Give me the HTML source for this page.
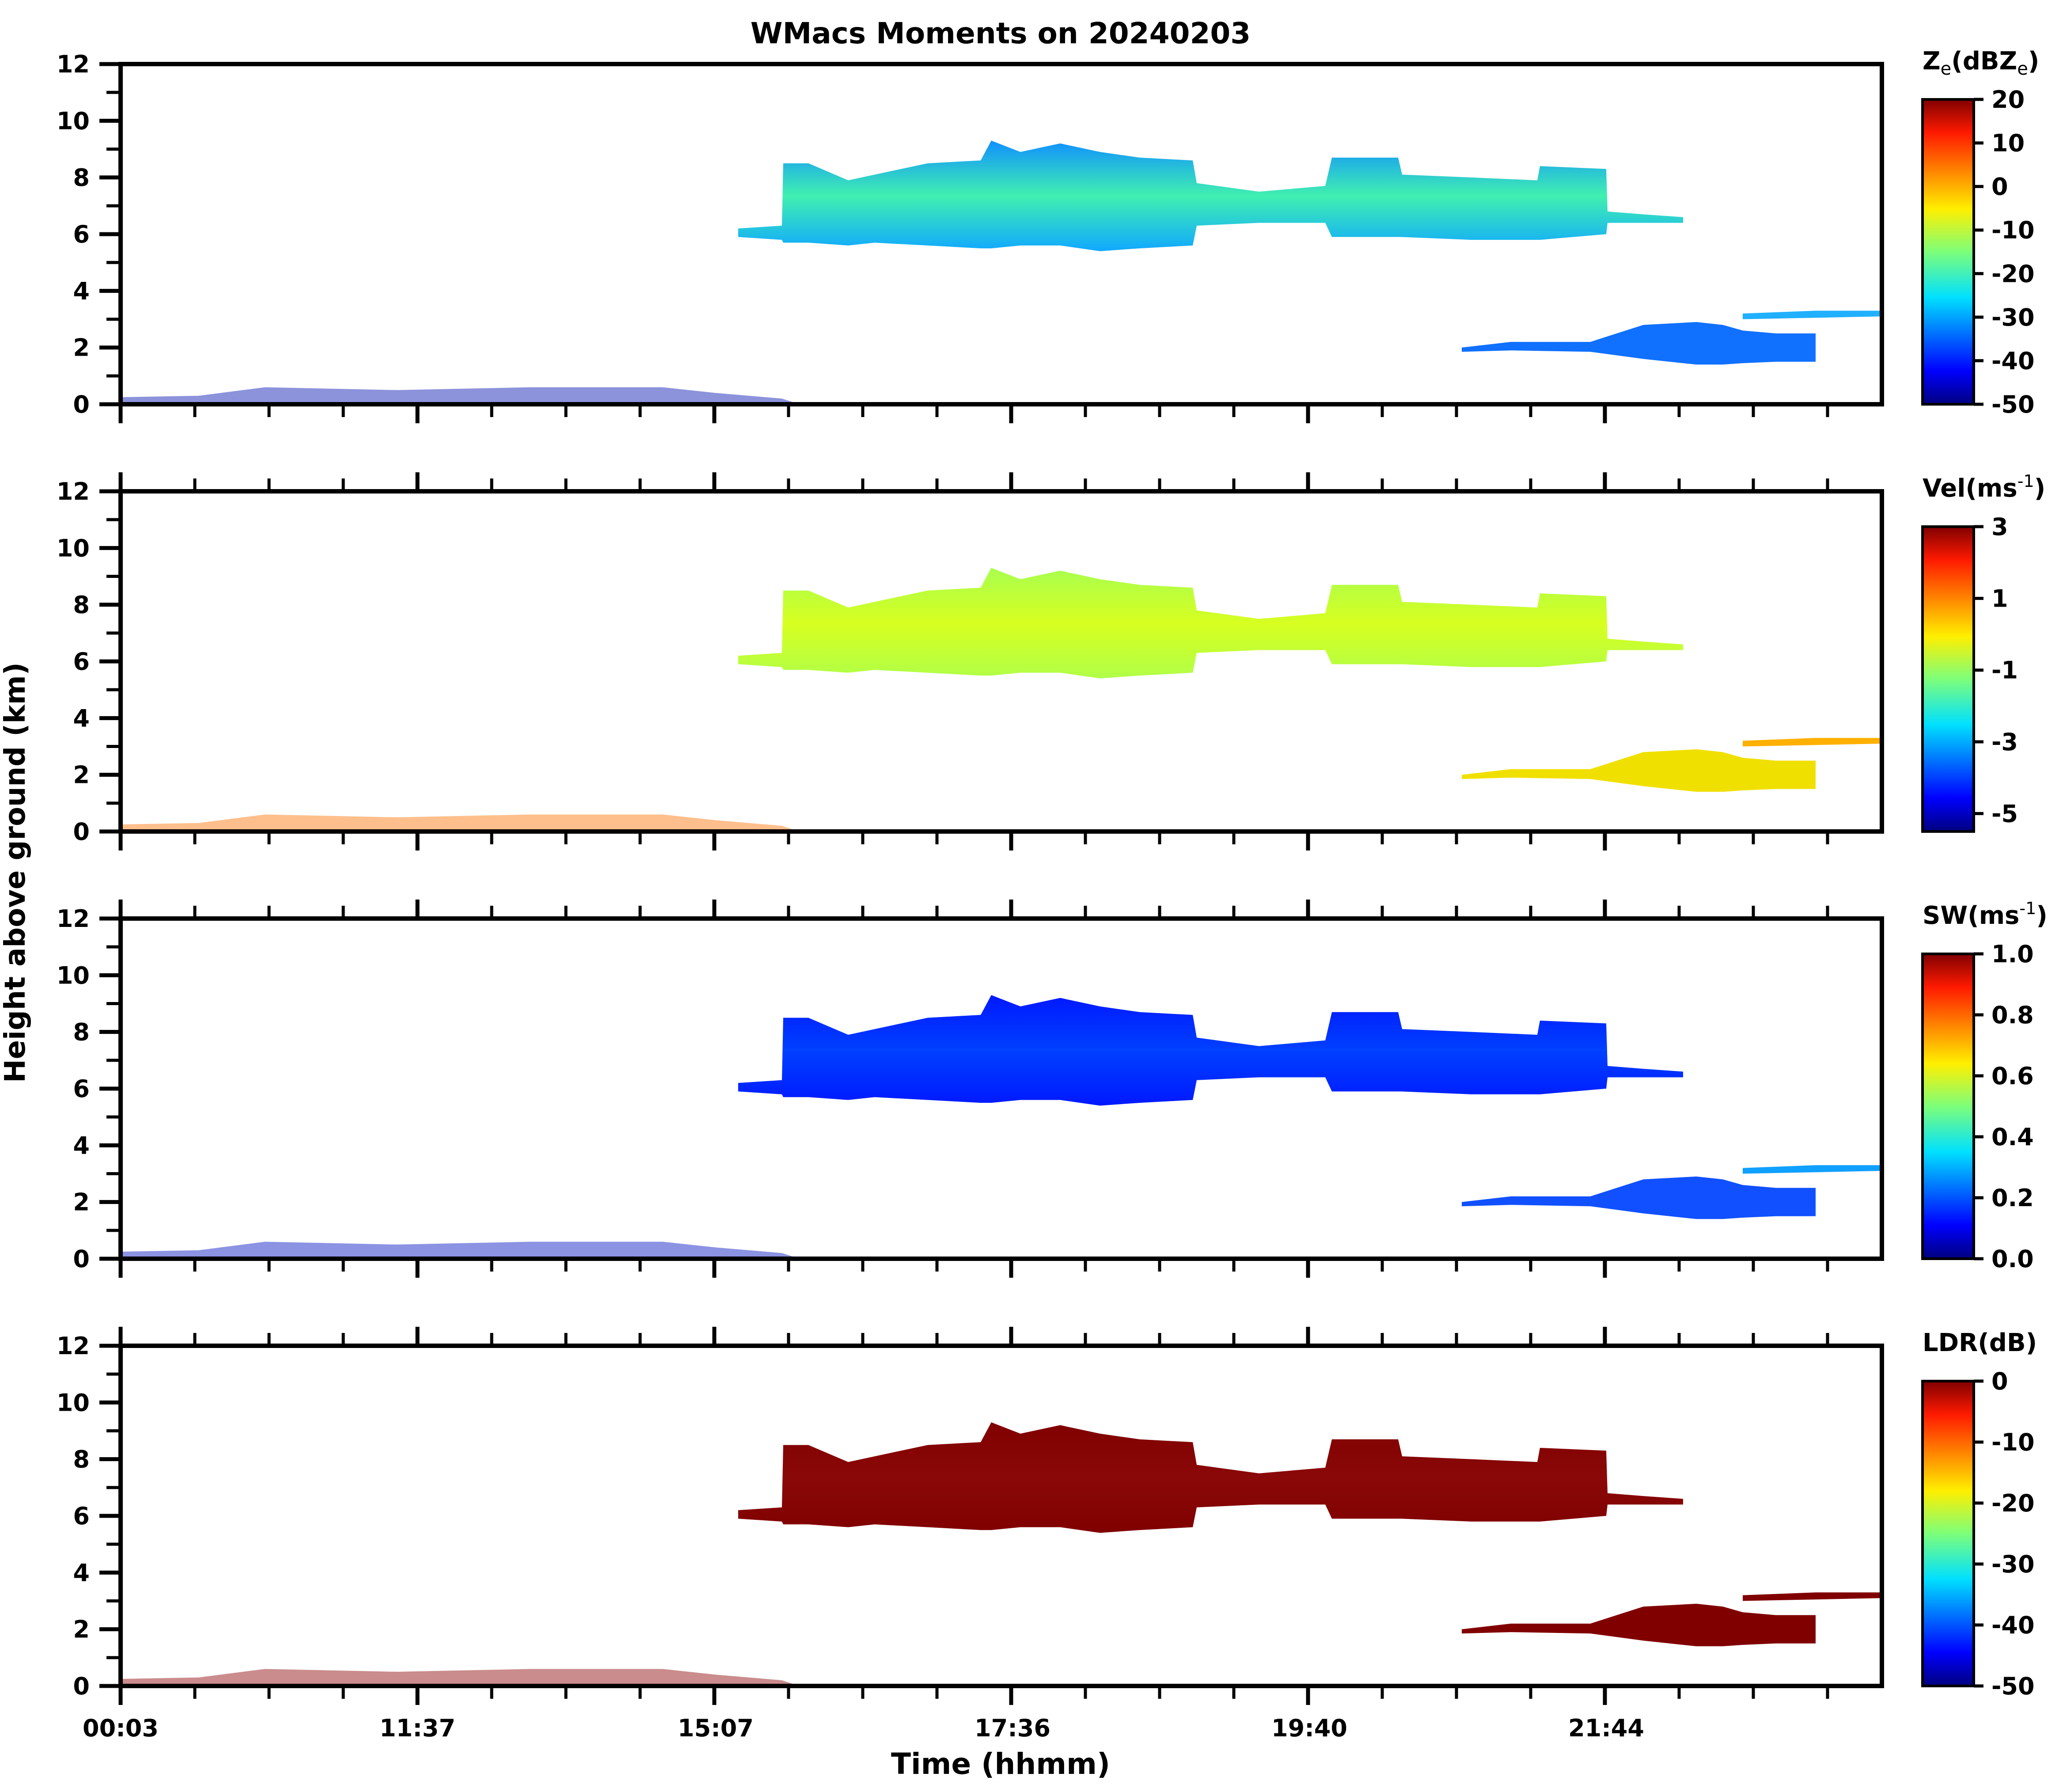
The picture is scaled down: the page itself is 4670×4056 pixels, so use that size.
<!DOCTYPE html>
<html><head><meta charset="utf-8">
<style>
html,body{margin:0;padding:0;background:#fff;}
svg{display:block;}
text{font-family:"DejaVu Sans","Liberation Sans",sans-serif;font-weight:bold;fill:#000;}
</style></head>
<body>
<svg id="fig" xmlns="http://www.w3.org/2000/svg" width="4670" height="4056" viewBox="0 0 4670 4056">
<text x="2265" y="98" font-size="66" text-anchor="middle">WMacs Moments on 20240203</text>
<text x="2265" y="4015" font-size="66" text-anchor="middle">Time (hhmm)</text>
<text x="0" y="0" font-size="64" text-anchor="middle" transform="translate(56,1975) rotate(-90)">Height above ground (km)</text>
</svg>
<script>
// ---- data (time index, heights in km) ----
const upperTime = [557,590,591,610,640,660,700,740,748,770,800,830,860,900,903,950,1000,1005,1055,1058,1110,1160,1162,1212,1213,1240,1270];
const upperTop  = [6.2,6.3,8.5,8.5,7.9,8.1,8.5,8.6,9.3,8.9,9.2,8.9,8.7,8.6,7.8,7.5,7.7,8.7,8.7,8.1,8.0,7.9,8.4,8.3,6.8,6.7,6.6];
const upperBase = [5.9,5.8,5.7,5.7,5.6,5.7,5.6,5.5,5.5,5.6,5.6,5.4,5.5,5.6,6.3,6.4,6.4,5.9,5.9,5.9,5.8,5.8,5.8,6.0,6.4,6.4,6.4];
const lowerTime = [1103,1140,1200,1240,1280,1300,1315,1340,1370];
const lowerTop  = [2.0,2.2,2.2,2.8,2.9,2.8,2.6,2.5,2.5];
const lowerBase = [1.85,1.9,1.85,1.6,1.4,1.4,1.45,1.5,1.5];
const bandTime = [1315,1370,1420];
const bandTop  = [3.2,3.3,3.3];
const bandBase = [3.0,3.05,3.1];
const clutterTime = [91,150,200,300,400,450,500,540,590,600];
const clutterTop  = [0.25,0.3,0.6,0.5,0.6,0.6,0.6,0.4,0.2,0.05];
const xTickIdx = [91,315,540,764,988,1212];
const xTickLabels = ["00:03","11:37","15:07","17:36","19:40","21:44"];
const yTicks = [0,2,4,6,8,10,12];
const cbTicksZe = [20,10,0,-10,-20,-30,-40,-50];
const cbTicksVel = [3,1,-1,-3,-5];
const cbTicksSW = [1.0,0.8,0.6,0.4,0.2,0.0];
const cbTicksLDR = [0,-10,-20,-30,-40,-50];

const NS="http://www.w3.org/2000/svg";
const svg=document.getElementById('fig');
const X0=273,X1=4260,D0=91,D1=1420,H=770,TOPS=[145,1112,2079,3046];
function xs(t){return X0+(t-D0)*(X1-X0)/(D1-D0);}
function mk(tag,attrs,parent){const e=document.createElementNS(NS,tag);for(const k in attrs)e.setAttribute(k,attrs[k]);(parent||svg).appendChild(e);return e;}

const defs=mk('defs',{});
const jet=[[0,'#00007f'],[0.11,'#0000ff'],[0.35,'#00e0ff'],[0.5,'#7dff7a'],[0.64,'#ffef00'],[0.89,'#ff1a00'],[1,'#800000']];
const lg=mk('linearGradient',{id:'jet',x1:0,y1:1,x2:0,y2:0},defs);
jet.forEach(s=>mk('stop',{offset:s[0],'stop-color':s[1]},lg));

const panels=[
 {name:'ze',title:['Z','e','(dBZ','e',')'],vmax:20,vmin:-50,ticks:cbTicksZe,fmt:v=>String(v),
  upper:['#1090ff','#40f0b0','#10a8ff'],lower:'#1070ff',band:'#20b0ff',clutter:'#0010b0'},
 {name:'vel',title:['Vel(ms','-1',')'],vmax:3,vmin:-5.5,ticks:cbTicksVel,fmt:v=>String(v),
  upper:['#a8ff50','#d8ff20','#b0ff48'],lower:'#f0e000',band:'#ffb000',clutter:'#ff7000'},
 {name:'sw',title:['SW(ms','-1',')'],vmax:1,vmin:0,ticks:cbTicksSW,fmt:v=>v.toFixed(1),
  upper:['#0018ff','#0040ff','#0018ff'],lower:'#1050ff',band:'#10a0ff',clutter:'#0010c0'},
 {name:'ldr',title:['LDR(dB)'],vmax:0,vmin:-50,ticks:cbTicksLDR,fmt:v=>String(v),
  upper:['#800000','#8a0808','#800000'],lower:'#800000',band:'#800000',clutter:'#8a0000'}
];

panels.forEach((p,i)=>{
  const top=TOPS[i];
  const ys=h=>top+H*(1-h/12);
  const g=mk('g',{});
  
  
  const ug=mk('linearGradient',{id:'ug'+i,x1:0,y1:0,x2:0,y2:1},defs);
  mk('stop',{offset:0,'stop-color':p.upper[0]},ug);
  mk('stop',{offset:0.5,'stop-color':p.upper[1]},ug);
  mk('stop',{offset:1,'stop-color':p.upper[2]},ug);
  function shape(T,Tp,B,fill,nm,op){
    const pts=[];
    T.forEach((t,k)=>pts.push(xs(t)+','+ys(Tp[k])));
    for(let k=T.length-1;k>=0;k--)pts.push(xs(T[k])+','+ys(B[k]));
    const e=mk('polygon',{points:pts.join(' '),fill:fill,'fill-opacity':op||1},g);
    
    
  }
  shape(upperTime,upperTop,upperBase,'url(#ug'+i+')','upper-cloud-'+p.name);
  shape(lowerTime,lowerTop,lowerBase,p.lower,'lower-cloud-'+p.name);
  shape(bandTime,bandTop,bandBase,p.band,'low-band-'+p.name);
  shape(clutterTime,clutterTop,clutterTime.map(()=>0),p.clutter,'ground-clutter-'+p.name,0.45);
  const fr=mk('rect',{x:X0,y:top,width:X1-X0,height:H,fill:'none',stroke:'#000','stroke-width':10},g);
  
  
  for(let h=0;h<=12;h++){
    const maj=h%2===0;
    mk('line',{x1:X0-(maj?48:32),x2:X0,y1:ys(h),y2:ys(h),stroke:'#000','stroke-width':maj?9:7},g);
  }
  yTicks.forEach(v=>{
    const t=mk('text',{x:X0-70,y:ys(v)+19,'font-size':54,'text-anchor':'end'},g);
    t.textContent=v;
    
    
  });
  const step=(xTickIdx[1]-xTickIdx[0])/4;
  for(let t=xTickIdx[0];t<D1-2;t+=step){
    const k=Math.round((t-xTickIdx[0])/step);
    const maj=k%4===0;
    const L=maj?43:29;
    mk('line',{x1:xs(t),x2:xs(t),y1:top+H,y2:top+H+L,stroke:'#000','stroke-width':maj?9:7},g);
    if(i>0)mk('line',{x1:xs(t),x2:xs(t),y1:top-L,y2:top,stroke:'#000','stroke-width':maj?9:7},g);
  }
  const cbTop=top+80,cbBot=top+H,cbX=4352,cbW=116;
  const cb=mk('rect',{x:cbX,y:cbTop,width:cbW,height:cbBot-cbTop,fill:'url(#jet)',stroke:'#000','stroke-width':6},g);
  
  
  p.ticks.forEach(v=>{
    const y=cbBot-(v-p.vmin)/(p.vmax-p.vmin)*(cbBot-cbTop);
    mk('line',{x1:cbX+cbW,x2:cbX+cbW+22,y1:y,y2:y,stroke:'#000','stroke-width':7},g);
    const t=mk('text',{x:cbX+cbW+40,y:y+19,'font-size':54},g);
    t.textContent=p.fmt(v);
    
    
  });
  const tt=mk('text',{x:4352,y:top+12,'font-size':56},g);
  
  
  p.title.forEach((s,k)=>{
    const sp=mk('tspan',{},tt);
    sp.textContent=s;
    if(p.title.length===5&&(k===1||k===3)){sp.setAttribute('font-size','40');sp.setAttribute('font-weight','normal');sp.setAttribute('dy','12');}
    else if(p.title.length===5&&(k===2||k===4)){sp.setAttribute('dy','-12');}
    if(p.title.length===3&&k===1){sp.setAttribute('font-size','38');sp.setAttribute('font-weight','normal');sp.setAttribute('dy','-22');}
    if(p.title.length===3&&k===2){sp.setAttribute('dy','22');}
  });
});
xTickLabels.forEach((lab,k)=>{
  const t=mk('text',{x:xs(xTickIdx[k]),y:3930,'font-size':54,'text-anchor':'middle'});
  t.textContent=lab;
  
  
});
</script>
</body></html>
